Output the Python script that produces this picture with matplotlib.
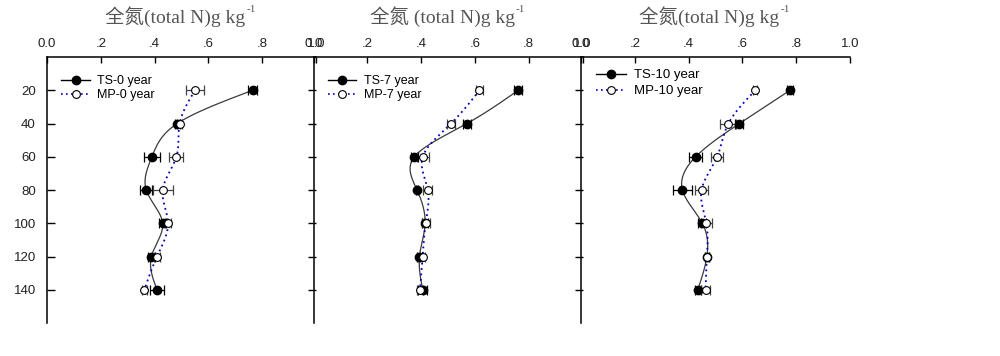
import matplotlib
matplotlib.use("Agg")
import matplotlib.pyplot as plt
import numpy as np

depth = [20, 40, 60, 80, 100, 120, 140]

years = ["0", "7", "10"]
ts_mean = [
    [0.764, 0.484, 0.390, 0.369, 0.430, 0.388, 0.409],
    [0.761, 0.570, 0.375, 0.385, 0.415, 0.394, 0.406],
    [0.777, 0.589, 0.426, 0.377, 0.451, 0.468, 0.434],
]
ts_err = [
    [0.017, 0.010, 0.031, 0.022, 0.012, 0.012, 0.027],
    [0.015, 0.015, 0.012, 0.005, 0.012, 0.010, 0.017],
    [0.010, 0.015, 0.025, 0.035, 0.015, 0.008, 0.012],
]
mp_mean = [
    [0.550, 0.493, 0.481, 0.430, 0.450, 0.409, 0.362],
    [0.617, 0.511, 0.406, 0.425, 0.417, 0.406, 0.396],
    [0.648, 0.548, 0.506, 0.448, 0.466, 0.468, 0.463],
]
mp_err = [
    [0.035, 0.010, 0.026, 0.037, 0.012, 0.010, 0.008],
    [0.013, 0.015, 0.022, 0.017, 0.015, 0.010, 0.010],
    [0.008, 0.030, 0.021, 0.024, 0.020, 0.008, 0.017],
]

titles = ["全氮(total N)g kg", "全氮 (total N)g kg", "全氮(total N)g kg"]
title_sup = "-1"
xticks = [0.0, 0.2, 0.4, 0.6, 0.8, 1.0]
xticklabels = ["0.0", ".2", ".4", ".6", ".8", "1.0"]
yticks = [20, 40, 60, 80, 100, 120, 140]


def spline(y, x, n=200):
    # natural cubic spline x(y), only used to draw a smooth connecting curve
    y = np.asarray(y, float); x = np.asarray(x, float)
    k = len(y)
    h = np.diff(y)
    A = np.zeros((k, k)); b = np.zeros(k)
    A[0, 0] = A[-1, -1] = 1
    for i in range(1, k - 1):
        A[i, i - 1] = h[i - 1]
        A[i, i] = 2 * (h[i - 1] + h[i])
        A[i, i + 1] = h[i]
        b[i] = 6 * ((x[i + 1] - x[i]) / h[i] - (x[i] - x[i - 1]) / h[i - 1])
    M = np.linalg.solve(A, b)
    yy = np.linspace(y[0], y[-1], n)
    idx = np.clip(np.searchsorted(y, yy) - 1, 0, k - 2)
    t0 = y[idx]; t1 = y[idx + 1]; hh = t1 - t0
    a = (t1 - yy) / hh; c = (yy - t0) / hh
    xx = (a * x[idx] + c * x[idx + 1]
          + ((a ** 3 - a) * M[idx] + (c ** 3 - c) * M[idx + 1]) * hh ** 2 / 6)
    return xx, yy


plt.rcParams["font.family"] = ["Liberation Sans", "DejaVu Sans"]
title_family = ["Liberation Serif", "Noto Sans CJK SC"]

fig = plt.figure(figsize=(10, 3.56), dpi=100)
renderer = fig.canvas.get_renderer()
lefts = [0.047, 0.3135, 0.581]
bottom, width, height = 0.0927, 0.269, 0.747
leg_size = [9, 9, 9.5]
leg_spacing = [0.15, 0.15, 0.3]
leg_top = [0.965, 0.965, 0.99]

for i, yr in enumerate(years):
    ax = fig.add_axes([lefts[i], bottom, width, height])
    ax.patch.set_alpha(0)

    xs, ys = spline(depth, ts_mean[i])
    ax.plot(xs, ys, color="#3a3a3a", lw=0.9, zorder=2)
    xs, ys = spline(depth, mp_mean[i])
    ax.plot(xs, ys, color="#0000c0", lw=1.3, ls=(0, (1, 2.0)), zorder=2)

    ax.errorbar(ts_mean[i], depth, xerr=ts_err[i], fmt="none", ecolor="black",
                elinewidth=0.9, capsize=3.6, capthick=0.9, zorder=3)
    ax.errorbar(mp_mean[i], depth, xerr=mp_err[i], fmt="none", ecolor="#444444",
                elinewidth=0.9, capsize=3.6, capthick=0.9, zorder=3)
    ax.plot(ts_mean[i], depth, "o", color="black", ms=6, zorder=4)
    ax.plot(mp_mean[i], depth, "o", mfc="white", mec="black", mew=0.8, ms=5.6, zorder=4)

    # legend proxies
    h1, = ax.plot([], [], "-o", color="black", lw=1, ms=6)
    h2, = ax.plot([], [], "o", ls=(0, (1, 2)), color="#0000c0", mfc="white",
                  mec="black", mew=0.8, ms=5.6, lw=1.2)
    ax.legend([h1, h2], [f"TS-{yr} year", f"MP-{yr} year"], loc="upper left",
              bbox_to_anchor=(0.02, leg_top[i]), frameon=False, fontsize=leg_size[i],
              handlelength=2.3, handletextpad=0.6, labelspacing=leg_spacing[i],
              borderaxespad=0.3)

    ax.set_xlim(0, 1.0)
    ax.set_ylim(160, 0)
    ax.xaxis.tick_top()
    ax.set_xticks(xticks)
    ax.set_xticklabels(xticklabels)
    ax.tick_params(axis="x", direction="in", length=4, width=1, pad=5,
                   labelsize=9.5, labelcolor="#222222")
    ax.set_yticks(yticks)
    ax.spines["bottom"].set_visible(False)
    ax.spines["right"].set_visible(False)
    for s in ["left", "top"]:
        ax.spines[s].set_linewidth(1.1)
    if i == 0:
        ax.tick_params(axis="y", direction="in", length=6, width=1, pad=8,
                       labelsize=9.5, labelcolor="#222222", left=True, right=True)
    elif i == 1:
        ax.tick_params(axis="y", direction="in", length=6, width=1,
                       left=False, right=True, labelleft=False)
    else:
        ax.tick_params(axis="y", left=False, right=False, labelleft=False)

    # title with a superscript drawn as its own text
    cx = lefts[i] + width / 2
    t = fig.text(cx, 0.952, titles[i], ha="center", va="center",
                 fontsize=14, color="#555555", family=title_family)
    bb = t.get_window_extent(renderer).transformed(fig.transFigure.inverted())
    shift = 0.006
    t.set_x(cx - shift)
    fig.text(bb.x1 - shift + 0.001, 0.972, title_sup, ha="left", va="center",
             fontsize=8, color="#555555", family=title_family)

fig.savefig("out.png", dpi=100)
